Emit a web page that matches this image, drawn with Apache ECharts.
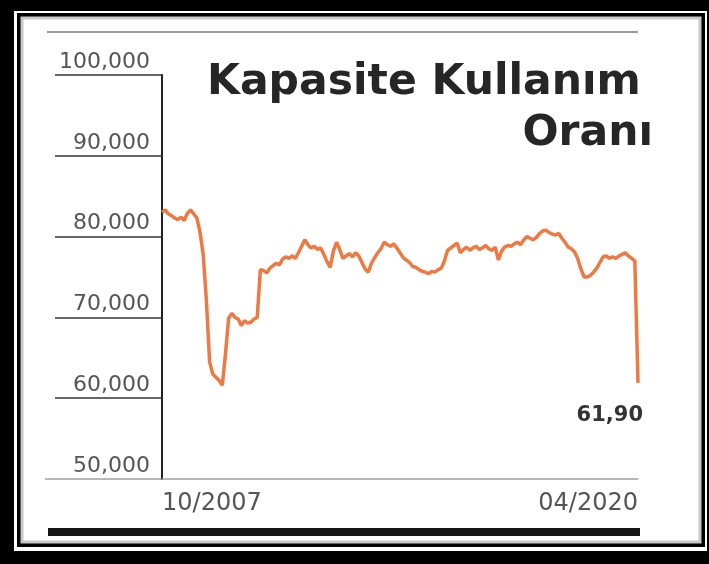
<!DOCTYPE html>
<html>
<head>
<meta charset="utf-8">
<script src="https://cdn.jsdelivr.net/npm/echarts@6/dist/echarts.min.js"></script>
<style>
  html, body { margin: 0; padding: 0; background: #000; }
  #kko { width: 709px; height: 564px; }
</style>
</head>
<body>
<div id="kko"></div>
<script>
// Kapasite kullanim orani, aylik, 10/2007 - 04/2020
var startYear = 2007;
var startMonth = 10;
var yTicks = [50, 60, 70, 80, 90, 100];
var kko = [
    83.0, 83.3, 82.8,
    82.6, 82.3, 82.1, 82.4, 82.0, 82.9, 83.3, 82.8, 82.3, 80.5, 77.7, 72.0,
    64.5, 63.0, 62.6, 62.2, 61.6, 65.5, 69.9, 70.5, 70.0, 69.8, 69.0, 69.6,
    69.3, 69.4, 69.8, 70.0, 75.9, 75.8, 75.5, 76.1, 76.4, 76.7, 76.5, 77.2,
    77.5, 77.3, 77.6, 77.3, 78.0, 78.8, 79.6, 79.0, 78.6, 78.8, 78.4, 78.6,
    77.8, 76.9, 76.2, 78.2, 79.3, 78.4, 77.3, 77.6, 77.9, 77.5, 78.0, 77.6,
    76.8, 76.0, 75.6, 76.7, 77.4, 78.0, 78.5, 79.3, 79.0, 78.8, 79.1, 78.6,
    78.0, 77.4, 77.1, 76.8, 76.3, 76.2, 75.9, 75.7, 75.6, 75.4, 75.7, 75.6,
    75.9, 76.1, 77.0, 78.3, 78.6, 78.9, 79.2, 78.0, 78.4, 78.7, 78.3, 78.6,
    78.8, 78.4, 78.6, 78.9, 78.5, 78.3, 78.7, 77.1, 78.2, 78.7, 78.9, 78.8,
    79.1, 79.3, 79.0, 79.6, 80.0, 79.8, 79.6, 79.9, 80.4, 80.7, 80.8, 80.5,
    80.3, 80.2, 80.4, 79.8, 79.3, 78.7, 78.5, 78.1, 77.3, 76.0, 75.0, 75.0,
    75.2, 75.6, 76.1, 76.8, 77.5, 77.6, 77.3, 77.5, 77.3, 77.6, 77.8, 78.0,
    77.6, 77.3, 77.0, 61.9
];

var months = [];
for (var i = 0; i < kko.length; i++) {
    var m = (startMonth - 1 + i) % 12 + 1;
    var y = startYear + Math.floor((startMonth - 1 + i) / 12);
    months.push((m < 10 ? '0' + m : '' + m) + '/' + y);
}
var last = kko.length - 1;

function trNum(v, d) {
    return v.toFixed(d).replace('.', ',');
}

var chart = echarts.init(document.getElementById('kko'));
var option = {
    backgroundColor: '#000',
    animation: false,
    title: [{
        text: 'Kapasite Kullanım',
        left: 207,
        top: 61,
        padding: 0,
        textStyle: {
            fontFamily: 'DejaVu Sans',
            fontWeight: 'bold',
            fontSize: 42.5,
            color: '#262626'
        }
    }, {
        text: 'Oranı',
        right: 56,
        top: 112,
        padding: 0,
        textStyle: {
            fontFamily: 'DejaVu Sans',
            fontWeight: 'bold',
            fontSize: 42.5,
            color: '#262626'
        }
    }],
    graphic: [
        // cerceve
        { type: 'rect', z: -10, shape: { x: 14, y: 11, width: 693, height: 540 }, style: { fill: '#fff' } },
        { type: 'rect', z: -10, shape: { x: 17, y: 13, width: 688, height: 534 }, style: { fill: '#000' } },
        { type: 'rect', z: -10, shape: { x: 22, y: 18, width: 678, height: 524 }, style: { fill: '#fff', stroke: '#c8c8c8', lineWidth: 3 } },
        // ust ince cizgi
        { type: 'line', shape: { x1: 47, y1: 32, x2: 638, y2: 32 }, style: { stroke: '#9a9a9a', lineWidth: 2 } },
        // alt kalin cizgi
        { type: 'rect', shape: { x: 48, y: 528, width: 592, height: 8 }, style: { fill: '#151515' } },
        // x ekseni sol uzantisi
        { type: 'line', shape: { x1: 45, y1: 479, x2: 162, y2: 479 }, style: { stroke: '#a0a0a0', lineWidth: 1.5 } }
    ],
    grid: {
        left: 162,
        right: 71,
        top: 75,
        bottom: 85,
        outerBoundsMode: 'none'
    },
    xAxis: {
        type: 'category',
        data: months,
        boundaryGap: false,
        axisTick: { show: false },
        axisLine: { lineStyle: { color: '#a0a0a0', width: 1.5 } },
        axisLabel: {
            interval: function (idx) { return idx === 0 || idx === last; },
            showMinLabel: true,
            showMaxLabel: true,
            alignMinLabel: 'left',
            alignMaxLabel: 'right',
            margin: 13,
            fontFamily: 'DejaVu Sans',
            fontSize: 24,
            color: '#555'
        }
    },
    yAxis: {
        type: 'value',
        min: 50,
        max: 100,
        interval: 10,
        splitLine: { show: false },
        axisLine: { show: true, lineStyle: { color: '#222', width: 2 } },
        axisTick: {
            show: true,
            length: 107,
            customValues: yTicks.slice(1),
            lineStyle: { color: '#333', width: 1.5 }
        },
        axisLabel: {
            customValues: yTicks,
            formatter: function (v) { return trNum(v, 3); },
            align: 'right',
            verticalAlign: 'bottom',
            margin: 12,
            padding: [0, 0, 2, 0],
            fontFamily: 'DejaVu Sans',
            fontSize: 22,
            color: '#555'
        }
    },
    series: [{
        name: 'KKO',
        type: 'line',
        data: kko,
        symbol: 'none',
        lineStyle: { color: '#ef7943', width: 3.5 },
        endLabel: {
            show: true,
            formatter: function (p) { return trNum(p.value, 2); },
            align: 'right',
            verticalAlign: 'top',
            offset: [-3, 22],
            fontFamily: 'DejaVu Sans',
            fontWeight: 'bold',
            fontSize: 21,
            color: '#333'
        },
        z: 3
    }]
};
chart.setOption(option);
</script>
</body>
</html>
